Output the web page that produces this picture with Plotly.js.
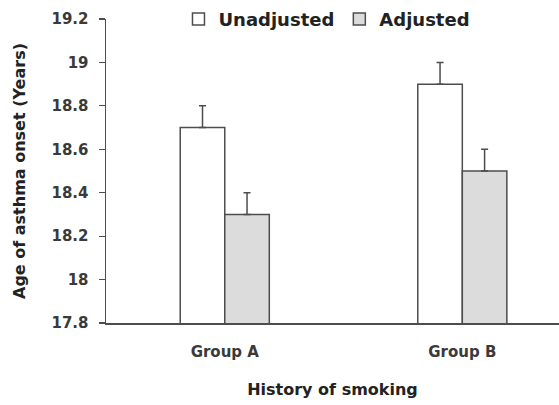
<!DOCTYPE html>
<html>
<head>
<meta charset="utf-8">
<script src="https://cdn.plot.ly/plotly-3.0.1.min.js"></script>
<style>html,body{margin:0;padding:0;background:#fff;}#chart{width:559px;height:405px;}</style>
</head>
<body>
<div id="chart"></div>
<script>
const groups = ["Group A", "Group B"];
const unadjusted = [18.7, 18.9];
const adjusted = [18.3, 18.5];
const unadjustedErr = [0.1, 0.1];
const adjustedErr = [0.1, 0.1];
const yTicks = [17.8, 18, 18.2, 18.4, 18.6, 18.8, 19, 19.2];

const edge = "#4d4d4d";
const txt = "#3a3a3a";
const fontFam = "DejaVu Sans, sans-serif";

const traces = [
  {
    type: "bar", name: "Unadjusted", x: groups, y: unadjusted,
    marker: {color: "#ffffff", line: {color: edge, width: 1.5}},
    error_y: {type: "data", array: unadjustedErr, arrayminus: [0, 0], symmetric: false, color: edge, thickness: 1.5, width: 3.5}
  },
  {
    type: "bar", name: "Adjusted", x: groups, y: adjusted,
    marker: {color: "#dcdcdd", line: {color: edge, width: 1.5}},
    error_y: {type: "data", array: adjustedErr, arrayminus: [0, 0], symmetric: false, color: edge, thickness: 1.5, width: 3.5}
  }
];

const layout = {
  width: 559, height: 405,
  margin: {l: 106, r: 0, t: 19, b: 82},
  paper_bgcolor: "#ffffff", plot_bgcolor: "#ffffff",
  barmode: "group", bargap: 0.625, bargroupgap: 0,
  showlegend: true,
  legend: {
    orientation: "h", x: 0.16, xanchor: "left", y: 1.06, yanchor: "top",
    font: {family: fontFam, size: 18, color: "#222", weight: "bold"},
    itemwidth: 30, traceorder: "normal", bgcolor: "rgba(0,0,0,0)"
  },
  font: {family: fontFam, color: txt},
  xaxis: {
    type: "category", range: [-0.5, 1.407],
    showline: true, linecolor: edge, linewidth: 1.5,
    ticks: "", showgrid: false, zeroline: false, ticklabelstandoff: 14,
    tickfont: {family: fontFam, size: 15, color: txt, weight: "bold"},
    title: {text: "<b>History of smoking</b>", font: {family: fontFam, size: 16, color: "#222"}, standoff: 24}
  },
  yaxis: {
    range: [17.8, 19.2], tickmode: "array", tickvals: yTicks, ticktext: yTicks.map(String),
    showline: true, linecolor: edge, linewidth: 1.5,
    ticks: "outside", ticklen: 6, tickwidth: 1.2, tickcolor: edge, ticklabelstandoff: 7,
    showgrid: false, zeroline: false,
    tickfont: {family: fontFam, size: 15, color: txt, weight: "bold"},
    title: {text: "<b>Age of asthma onset (Years)</b>", font: {family: fontFam, size: 16, color: "#222"}, standoff: 22}
  }
};

Plotly.newPlot("chart", traces, layout, {displayModeBar: false, staticPlot: true});
</script>
</body>
</html>
